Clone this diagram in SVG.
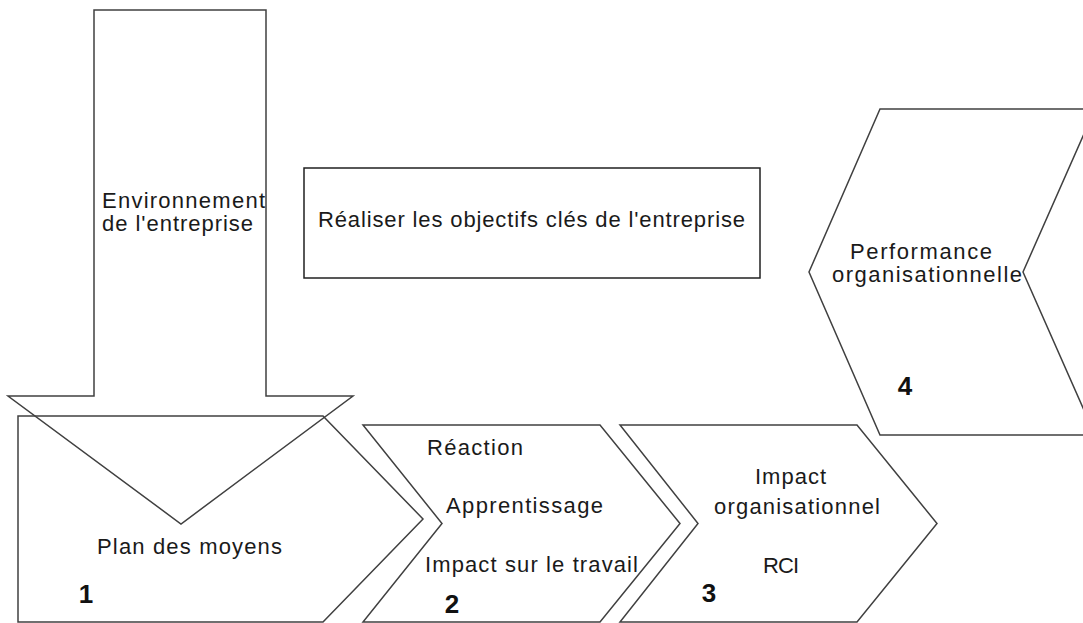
<svg xmlns="http://www.w3.org/2000/svg" width="1083" height="623" viewBox="0 0 1083 623">
<style>
.shape{fill:none;stroke:#404040;stroke-width:1.5;stroke-linejoin:miter}
.box{fill:none;stroke:#202020;stroke-width:1.5}
.lbl{font-family:"Liberation Sans",Arial,sans-serif;font-size:22px;fill:#1a1a1a}
.num{font-family:"Liberation Sans",Arial,sans-serif;font-size:26px;font-weight:bold;fill:#111;text-anchor:middle}
</style>
<rect width="1083" height="623" fill="#fff"/>
<g id="connectors"></g>
<g id="env-arrow">
<polygon class="shape" points="94,10 266,10 266,396 353,396 181,524 8,396 94,396"/>
<text class="lbl" x="102" y="208" textLength="163" lengthAdjust="spacing">Environnement</text>
<text class="lbl" x="102" y="231" textLength="151" lengthAdjust="spacing">de l'entreprise</text>
</g>
<g id="objectifs">
<rect class="box" x="304" y="168" width="456" height="110"/>
<text class="lbl" x="318" y="227" textLength="427" lengthAdjust="spacing">Réaliser les objectifs clés de l'entreprise</text>
</g>
<g id="step1">
<polygon class="shape" points="18,416 323,416 423,519 323,622 18,622"/>
<text class="lbl" x="97" y="554" textLength="185" lengthAdjust="spacing">Plan des moyens</text>
<text class="num" x="86" y="603">1</text>
</g>
<g id="step2">
<polygon class="shape" points="363,425 600,425 680,523.5 600,622 363,622 442,523.5"/>
<text class="lbl" x="427" y="455" textLength="96" lengthAdjust="spacing">Réaction</text>
<text class="lbl" x="446" y="513" textLength="157" lengthAdjust="spacing">Apprentissage</text>
<text class="lbl" x="425" y="572" textLength="213" lengthAdjust="spacing">Impact sur le travail</text>
<text class="num" x="452" y="613">2</text>
</g>
<g id="step3">
<polygon class="shape" points="620,425 857,425 937,523.5 857,622 620,622 698,523.5"/>
<text class="lbl" x="755" y="484" textLength="71" lengthAdjust="spacing">Impact</text>
<text class="lbl" x="714" y="514" textLength="166" lengthAdjust="spacing">organisationnel</text>
<text class="lbl" x="763" y="573" textLength="36" lengthAdjust="spacing">RCI</text>
<text class="num" x="709" y="602">3</text>
</g>
<g id="step4">
<polygon class="shape" points="880,109 1095,109 1023,272 1095,435 880,435 809,272"/>
<text class="lbl" x="850" y="259" textLength="142" lengthAdjust="spacing">Performance</text>
<text class="lbl" x="832" y="282" textLength="190" lengthAdjust="spacing">organisationnelle</text>
<text class="num" x="905" y="395">4</text>
</g>
</svg>
